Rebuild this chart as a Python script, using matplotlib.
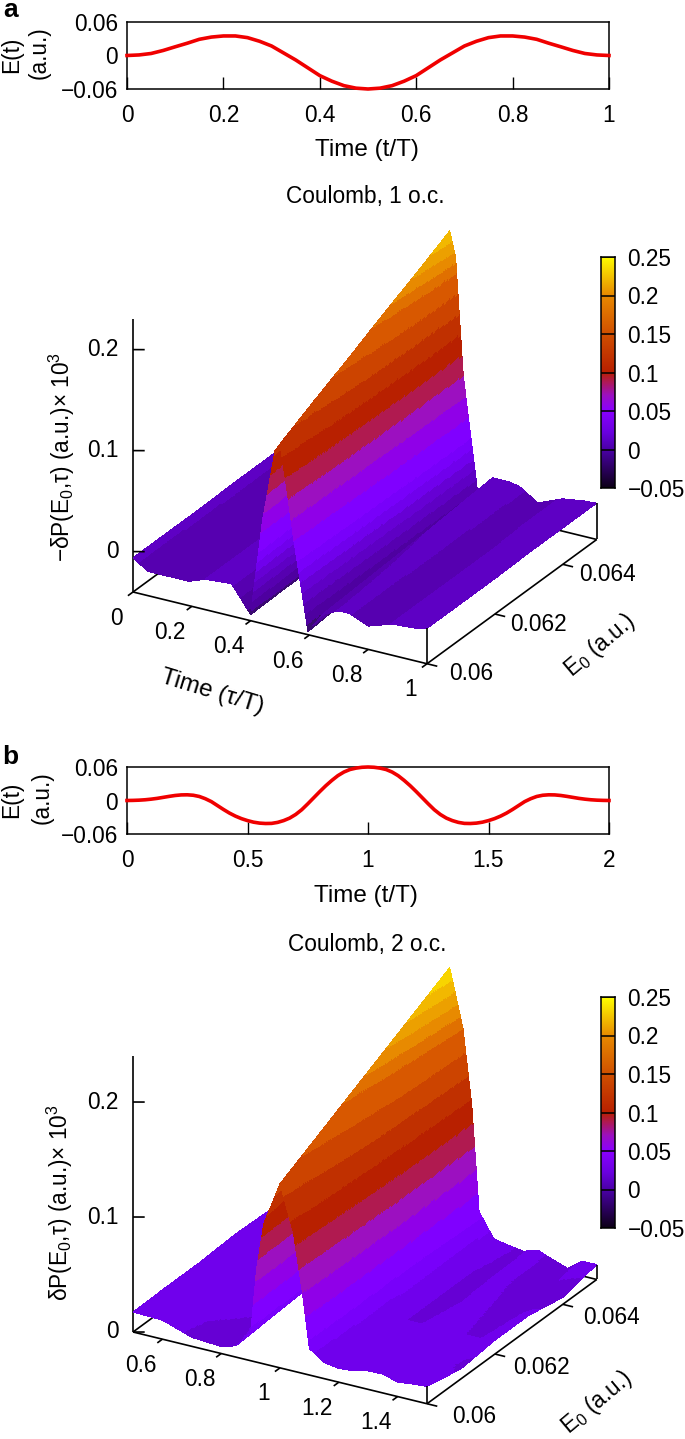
import numpy as np
import matplotlib
matplotlib.use('Agg')
import matplotlib.pyplot as plt
from matplotlib.colors import LinearSegmentedColormap, ListedColormap
from mpl_toolkits.mplot3d import proj3d

W, H = 685, 1439
FS = 16.3
plt.rcParams['font.family'] = ['Liberation Sans', 'DejaVu Sans']
plt.rcParams['mathtext.default'] = 'regular'
plt.rcParams['mathtext.fontset'] = 'custom'
plt.rcParams['mathtext.rm'] = 'Liberation Sans'
plt.rcParams['font.size'] = FS

# driving field, read every 0.025 of the half period, the pulse is symmetric
t_a = [i * .025 for i in range(41)]
half_a = [0, .001, .0036, .009, .0156, .022, .029, .033, .035, .035, .032, .0255, .017, .0045, -.008, -.022,
          -.036, -.046, -.054, -.0585, -.06]
field_a = half_a + half_a[-2::-1]
t_b = [i * .025 for i in range(81)]
half_b = [0, .0002, .0006, .0013, .0024, .0038, .0056, .0074, .009, .01, .0102, .0094, .0072, .0032, -.002,
          -.009, -.016, -.0225, -.028, -.0325, -.036, -.0388, -.0405, -.0412, -.041, -.0392, -.036, -.0315,
          -.025, -.0165, -.006, .005, .016, .0265, .036, .0445, .051, .0555, .058, .0595, .06]
field_b = half_b + half_b[-2::-1]

E0 = [.06, .061, .062, .063, .064, .065]

tau_a = [0, .05, .1, .19, .245, .335, .4, .44, .483, .5, .52, .546, .595, .646, .7, .736, .8, .884, .952, 1]
dp_a = [
    [-.006, -.016, -.016, -.016, -.010, -.008, -.034, .061, .134, .142, .105, .052, -.037, -.016, -.009, -.009, -.017, -.009, -.008, -.005],
    [-.006, -.015, -.016, -.016, -.010, -.008, -.033, .069, .150, .160, .125, .060, -.034, -.014, -.008, -.009, -.017, -.009, -.007, -.005],
    [-.006, -.014, -.015, -.016, -.010, -.008, -.033, .077, .166, .177, .145, .068, -.031, -.012, -.007, -.008, -.018, -.009, -.007, -.005],
    [-.005, -.013, -.015, -.015, -.010, -.008, -.032, .085, .182, .195, .165, .076, -.028, -.010, -.006, -.008, -.018, -.009, -.006, -.004],
    [-.005, -.013, -.014, -.015, -.010, -.008, -.031, .093, .198, .212, .185, .083, -.025, -.007, -.005, -.007, -.018, -.008, -.006, -.004],
    [-.005, -.012, -.014, -.015, -.010, -.008, -.030, .101, .214, .230, .205, .090, -.022, -.004, -.004, -.006, -.018, -.008, -.005, -.004],
]

tau_b = [.5, .6, .7, .8, .85, .9, .92, .945, 1, 1.045, 1.075, 1.1, 1.15, 1.2, 1.25, 1.3, 1.35, 1.4, 1.45, 1.5]
dp_b = [
    [.0174, .0165, .0078, .006, .0098, .0236, .08, .122, .16, .121, .072, .023, .014, .012, .013, .016, .0164, .0125, .014, .015],
    [.018, .016, .012, .010, .012, .026, .088, .135, .176, .135, .082, .026, .014, .010, .011, .014, .016, .012, .012, .0087],
    [.018, .017, .014, .012, .014, .028, .095, .150, .192, .150, .092, .028, .014, .010, .010, .012, .013, .010, .010, .012],
    [.020, .018, .014, .012, .014, .030, .105, .165, .208, .165, .105, .030, .014, .010, .009, .011, .011, .008, .009, .012],
    [.019, .018, .015, .013, .015, .030, .115, .175, .224, .178, .115, .032, .014, .010, .009, .012, .009, .005, .009, .006],
    [.019, .018, .017, .017, .018, .030, .125, .190, .240, .190, .125, .034, .0135, .011, .009, .013, .008, .0035, .0127, .013],
]

cb_ticks = [-.05, 0, .05, .1, .15, .2, .25]
cb_labels = ['\u22120.05', '0', '0.05', '0.1', '0.15', '0.2', '0.25']

palette = LinearSegmentedColormap.from_list('pal', [
    (0.0, '#0d0018'), (0.1667, '#4b00a8'), (0.24, '#6a00e0'), (0.3333, '#8a00ff'),
    (0.40, '#9c10c0'), (0.46, '#b01a50'), (0.5, '#b82000'), (0.6667, '#d05000'),
    (0.8333, '#e88a00'), (1.0, '#ffff00')], N=256)
# surface colours in steps of 0.01, picked off the floor and the ridge flank
bands = ListedColormap(['#34086a', '#3a0a70', '#4e00a0', '#5600b0', '#5e00c4', '#6600d4', '#7000ec', '#7800fa',
                        '#8000ff', '#8000ff', '#9000e8', '#9000e8', '#9c10c0', '#9c10c0', '#b01a50', '#b01a50',
                        '#b82000', '#b82000', '#c03000', '#c03000', '#cc4400', '#cc4400', '#d85800', '#d85800',
                        '#e07000', '#e88a00', '#eca000', '#f2b800', '#f8d400', '#f8d400'])

fig = plt.figure(figsize=(W / 100, H / 100), dpi=100)


def px_axes(x0, y0, x1, y1, **kw):
    return fig.add_axes([x0 / W, 1 - y1 / H, (x1 - x0) / W, (y1 - y0) / H], **kw)


def put(x, y, s, ha='center', va='center', **kw):
    fig.text(x / W, 1 - y / H, s, ha=ha, va=va, **kw)


def field_panel(y0, y1, t, field, xmax, xticks, xlabels):
    ax = px_axes(127, y0, 609, y1)
    ax.plot(t, field, color='#f00000', lw=2.6, clip_on=False, zorder=3)
    ax.set_xlim(0, xmax)
    ax.set_ylim(-.06, .06)
    ax.set_xticks(xticks)
    ax.set_xticklabels(xlabels)
    ax.set_yticks([-.06, 0, .06])
    ax.set_yticklabels(['\u22120.06', '0', '0.06'])
    ax.tick_params(axis='x', direction='in', length=8.6, width=1, pad=11)
    ax.tick_params(axis='y', length=0, pad=6.5)
    for s in ax.spines.values():
        s.set_linewidth(1.1)
    return ax


def colorbar(y0, y1):
    ax = px_axes(601, y0, 615, y1)
    grad = np.linspace(.25, -.05, 256).reshape(-1, 1)
    ax.imshow(grad, cmap=palette, vmin=-.05, vmax=.25, aspect='auto', extent=[0, 1, -.05, .25])
    ax.hlines(cb_ticks, 0, 1, color='k', lw=1.1)
    ax.set_xticks([])
    ax.yaxis.tick_right()
    ax.set_yticks(cb_ticks)
    ax.set_yticklabels(cb_labels)
    ax.tick_params(axis='y', length=0, pad=9)
    for s in ax.spines.values():
        s.set_linewidth(1.1)


def to_px(ax, x, y, z):
    xs, ys, _ = proj3d.proj_transform(x, y, z, ax.get_proj())
    d = ax.transData.transform((xs, ys))
    return d[0], H - d[1]


def surface_panel(tau, dp, zlim, zpx, zticks, zlabels, tau_ticks, tau_labels, corner, e_off, lab_off):
    # big square axes, so nothing is clipped; scale and shift it until the box lands on the corners
    size = 660
    ax = px_axes(10, corner[1] - 400, 10 + size, corner[1] - 400 + size, projection='3d')
    ax.set_axis_off()
    ax.patch.set_visible(False)
    ax.computed_zorder = False
    ax.view_init(elev=25, azim=-60, roll=0)
    ax.set_proj_type('ortho')
    t0, t1 = tau[0], tau[-1]
    ax.set_xlim(t0, t1, view_margin=0)
    ax.set_ylim(E0[0], E0[-1], view_margin=0)
    ax.set_zlim(zlim[0], zlim[1], view_margin=0)
    aspect = (1, 1, (zlim[1] - zlim[0]) * zpx / np.cos(np.radians(25)) / 339.5)
    ax.set_box_aspect(aspect, zoom=1)
    ax.apply_aspect()
    a = to_px(ax, t0, E0[0], zlim[0])
    b = to_px(ax, t1, E0[0], zlim[0])
    ax.set_box_aspect(aspect, zoom=294 / (b[0] - a[0]))
    a = to_px(ax, t0, E0[0], zlim[0])
    p = ax.get_position()
    ax.set_position([p.x0 + (corner[0] - a[0]) / W, p.y0 - (corner[1] - a[1]) / H, p.width, p.height])
    ax.apply_aspect()

    # pm3d-style subdivision of the read grid, only for the colour bands;
    # the flank is steep, so tau needs very small cells there or the band edges turn to stairs
    dt = t1 - t0
    tf = np.union1d(np.union1d(tau, np.linspace(t0, t1, 240)),
                    np.linspace(t0 + .38 * dt, t0 + .62 * dt, 420))
    ef = np.linspace(E0[0], E0[-1], 100)
    rows = np.array([np.interp(tf, tau, r) for r in dp])
    zf = np.array([np.interp(ef, E0, rows[:, j]) for j in range(len(tf))]).T
    X, Y = np.meshgrid(tf, ef)
    ax.plot_surface(X, Y, zf, rstride=1, cstride=1, cmap=bands, vmin=-.05, vmax=.25,
                    linewidth=0, antialiased=False, shade=False, zorder=2)

    lk = dict(color='k', lw=1.2, solid_capstyle='butt')
    de = E0[-1] - E0[0]
    zb = zlim[0]
    # back edges sit under the surface
    ax.plot([t0, t0], [E0[0], E0[-1]], [zb, zb], zorder=1, **lk)
    ax.plot([t0, t1], [E0[-1], E0[-1]], [zb, zb], zorder=1, **lk)
    ax.plot([t0, t0], [E0[0], E0[0]], [zb, zlim[1]], zorder=1, **lk)
    # front edges
    ax.plot([t0, t1], [E0[0], E0[0]], [zb, zb], zorder=4, **lk)
    ax.plot([t1, t1], [E0[0], E0[-1]], [zb, zb], zorder=4, **lk)
    ax.plot([t1, t1], [E0[0], E0[0]], [zb, dp[0][-1]], zorder=4, **lk)
    ax.plot([t1, t1], [E0[-1], E0[-1]], [zb, dp[-1][-1]], zorder=4, **lk)

    for v, s in zip(zticks, zlabels):
        ax.plot([t0, t0 + .03 * dt], [E0[0], E0[0] + .017 * de], [v, v], zorder=4, **lk)
        x, y = to_px(ax, t0, E0[0], v)
        put(x - 14, y, s, ha='right')
    for v, s in zip(tau_ticks, tau_labels):
        ax.plot([v, v], [E0[0], E0[0] - .03 * de], [zb, zb], zorder=4, **lk)
        x, y = to_px(ax, v, E0[0], zb)
        off = -10 if len(s) == 1 else -6
        put(x + off, y + 26, s, ha='right')
    for v, s, d in zip([.06, .062, .064], ['0.06', '0.062', '0.064'], e_off):
        ax.plot([t1, t1 + .035 * dt], [v, v], [zb, zb], zorder=4, **lk)
        x, y = to_px(ax, t1, v, zb)
        put(x + d, y + lab_off, s, ha='left')
    return ax


# panel a
put(3, 10, 'a', ha='left', fontweight='bold', fontsize=19)
field_panel(22, 89, t_a, field_a, 1, [0, .2, .4, .6, .8, 1], ['0', '0.2', '0.4', '0.6', '0.8', '1'])
put(12, 55, 'E(t)', rotation=90)
put(39, 53, '(a.u.)', rotation=90)
put(367, 150, 'Time (t/T)', fontsize=17.5)
put(365, 197, 'Coulomb, 1 o.c.')
surface_panel(tau_a, dp_a, (-.04, .23), 1010, [0, .1, .2], ['0', '0.1', '0.2'],
              [0, .2, .4, .6, .8, 1], ['0', '0.2', '0.4', '0.6', '0.8', '1'], (133, 592), [22, 15, 16], 10)
colorbar(257, 488)
put(62, 457, '\u2212\u03b4P(E$_0$,\u03c4) (a.u.)\u00d7 10$^3$', rotation=90)
put(212, 692, 'Time (\u03c4/T)', rotation=-17, fontsize=17.5)
put(600, 646, 'E$_0$ (a.u.)', rotation=40)

# panel b
put(2, 757, 'b', ha='left', fontweight='bold', fontsize=19)
field_panel(767, 834, t_b, field_b, 2, [0, .5, 1, 1.5, 2], ['0', '0.5', '1', '1.5', '2'])
put(12, 800, 'E(t)', rotation=90)
put(42, 798, '(a.u.)', rotation=90)
put(366, 896, 'Time (t/T)', fontsize=17.5)
put(367, 944, 'Coulomb, 2 o.c.')
surface_panel(tau_b, dp_b, (0, .24), 1150, [0, .1, .2], ['0', '0.1', '0.2'],
              [.6, .8, 1, 1.2, 1.4], ['0.6', '0.8', '1', '1.2', '1.4'], (133, 1332), [25, 18, 20], 13)
colorbar(997, 1228)
put(60, 1203, '\u03b4P(E$_0$,\u03c4) (a.u.)\u00d7 10$^3$', rotation=90)
put(597, 1403, 'E$_0$ (a.u.)', rotation=40)

fig.savefig('out.png', dpi=100)
